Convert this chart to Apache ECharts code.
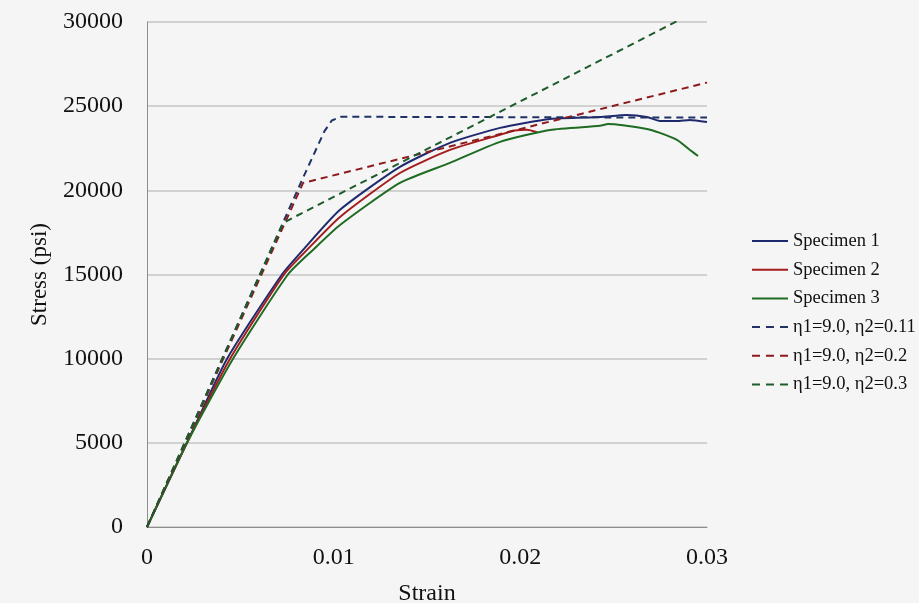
<!DOCTYPE html>
<html>
<head>
<meta charset="utf-8">
<script src="https://cdn.jsdelivr.net/npm/echarts@6/dist/echarts.min.js"></script>
<style>
  html,body{margin:0;padding:0;background:#f5f5f5;}
  #main{width:919px;height:603px;}
</style>
</head>
<body>
<div id="main"></div>
<script>
// test curves, [strain, stress psi]
var spec1 = [[0,0],[0.00214,5000],[0.00429,10000],[0.00723,15000],[0.00836,16460],[0.01034,18840],[0.01355,21390],[0.01623,22820],[0.01891,23710],[0.02159,24240],[0.02427,24360],[0.0257,24480],[0.02678,24360],[0.02748,24120],[0.02839,24120],[0.02909,24180],[0.030,24060]]
var spec2 = [[0,0],[0.00214,5000],[0.00445,10000],[0.00734,15000],[0.00857,16460],[0.01034,18420],[0.01355,21030],[0.01623,22400],[0.01891,23300],[0.0197,23550],[0.02036,23600],[0.0209,23450]]
var spec3 = [[0,0],[0.00214,5000],[0.00461,10000],[0.00755,15000],[0.00889,16460],[0.01034,17940],[0.01355,20440],[0.01623,21630],[0.01891,22880],[0.02159,23590],[0.02427,23830],[0.0247,23940],[0.02678,23650],[0.02748,23410],[0.02839,23000],[0.02909,22400],[0.02952,22040]]
// model curves
var model011 = [[0,0],[0.0083,20600],[0.0095,23500],[0.0099,24150],[0.0104,24370],[0.030,24320]]
var model02 = [[0,0],[0.00836,20440],[0.030,26400]]
var model03 = [[0,0],[0.0073,18060],[0.0078,18360],[0.030,30960]]

var names = ['Specimen 1','Specimen 2','Specimen 3','η1=9.0, η2=0.11','η1=9.0, η2=0.2','η1=9.0, η2=0.3']
var colors = ['#1f2a6e','#a51c1c','#1e6b22','#1f3464','#8e1b1b','#1d5c2c']

var solidIcon = 'rect'
var dashIcon = 'path://M0,0h8v2h-8z M14,0h8v2h-8z M28,0h8v2h-8z'

var chart = echarts.init(document.getElementById('main'))

function line(i, data, dashed){
  return {
    name: names[i],
    type: 'line',
    data: data,
    symbol: 'none',
    smooth: dashed ? false : 0.2,
    lineStyle: {color: colors[i], width: 2, type: dashed ? [7,5] : 'solid'},
    itemStyle: {color: colors[i]}
  }
}

var option = {
  backgroundColor: '#f5f5f5',
  animation: false,
  textStyle: {fontFamily: 'Liberation Serif'},
  grid: {left: 147, right: 212, top: 22, bottom: 76, outerBoundsMode: 'none'},
  legend: {
    orient: 'vertical',
    left: 752,
    top: 231,
    padding: 0,
    itemWidth: 36,
    itemHeight: 2,
    itemGap: 8.7,
    textStyle: {fontFamily: 'Liberation Serif', fontSize: 18.5, color: '#111', lineHeight: 20},
    data: names.map(function(n, i){ return {name: n, icon: i < 3 ? solidIcon : dashIcon} })
  },
  xAxis: {
    type: 'value',
    min: 0, max: 0.03, interval: 0.01,
    name: 'Strain',
    nameLocation: 'middle',
    nameGap: 55,
    nameTextStyle: {fontFamily: 'Liberation Serif', fontSize: 24, color: '#111'},
    axisLine: {lineStyle: {color: '#8c8c8c'}},
    axisTick: {show: false},
    splitLine: {show: false},
    axisLabel: {margin: 19, fontSize: 24, color: '#111', fontFamily: 'Liberation Serif',
      formatter: function(v){ return v === 0 ? '0' : String(+v.toFixed(2)) }}
  },
  yAxis: {
    type: 'value',
    min: 0, max: 30000, interval: 5000,
    name: 'Stress (psi)',
    nameLocation: 'middle',
    nameGap: 96,
    nameTextStyle: {fontFamily: 'Liberation Serif', fontSize: 23, color: '#111'},
    axisLine: {show: true, lineStyle: {color: '#8c8c8c'}},
    axisTick: {show: false},
    splitLine: {lineStyle: {color: '#c4c4c4', width: 1.5}},
    axisLabel: {margin: 24, fontSize: 24, color: '#111', fontFamily: 'Liberation Serif',
      formatter: function(v){ return String(v) }}
  },
  series: [
    line(0, spec1, false),
    line(1, spec2, false),
    line(2, spec3, false),
    line(3, model011, true),
    line(4, model02, true),
    line(5, model03, true)
  ]
}
chart.setOption(option)
</script>
</body>
</html>
